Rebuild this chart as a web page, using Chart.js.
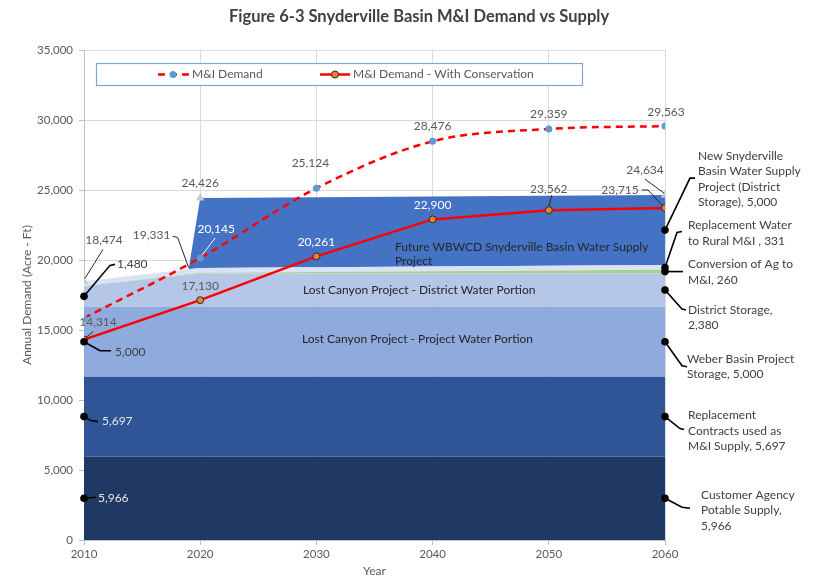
<!DOCTYPE html>
<html>
<head>
<meta charset="utf-8">
<title>Figure 6-3 Snyderville Basin M&amp;I Demand vs Supply</title>
<script src="https://cdn.jsdelivr.net/npm/chart.js@4.4.1/dist/chart.umd.min.js"></script>
<style>
  html, body { margin: 0; padding: 0; background: #ffffff; }
  #wrap { width: 814px; height: 578px; }
</style>
</head>
<body>
<div id="wrap"><canvas id="chart" width="814" height="578"></canvas></div>
<script>
// ---- Supply components (acre-ft), at the years where the stack changes ----
const supplyYears = [2010, 2019, 2020, 2060];
const customerAgency       = [5966, 5966, 5966, 5966];
const replacementContracts = [5697, 5697, 5697, 5697];
const weberStorage         = [5000, 5000, 5000, 5000];
const districtStorage      = [1480, 2290, 2380, 2380];
const agConversion         = [0, 47, 52, 260];
const ruralReplacement     = [331, 331, 331, 331];
const futureProject        = [0, 0, 5000, 5000];

// ---- Total supply (top of the stack) ----
const totalYears  = [2010, 2019, 2020, 2060];
const totalSupply = [18474, 19331, 24426, 24634];

// ---- Demand projections ----
const demandYears        = [2010, 2020, 2030, 2040, 2050, 2060];
const demand             = [15850, 20145, 25124, 28476, 29359, 29563];
const demandConservation = [14314, 17130, 20261, 22900, 23562, 23715];

// ---- Axis ticks ----
const yearTicks = [2010, 2020, 2030, 2040, 2050, 2060];
const yTickMax = 35000, yTickStep = 5000;

const FONT = 'Lato, "Open Sans", sans-serif';
const GRAY = '#595959', DARK = '#404040';
const fmt = v => Math.round(v).toLocaleString('en-US');
const pts = (xs, ys) => xs.map((x, i) => ({ x, y: ys[i] }));

// Value labels placed next to points: offsets in px from the point
const valueLabelLayout = {
  'M&I Demand': [
    null,
    { dx: 16, dy: -29, color: '#ffffff', leader: [[15, -20], [2, -3]] },
    { dx: -6, dy: -25, color: GRAY },
    { dx: 0, dy: -15, color: GRAY },
    { dx: 0, dy: -15, color: GRAY },
    { dx: 1, dy: -14, color: GRAY }
  ],
  'M&I Demand - With Conservation': [
    { dx: 14, dy: -17, color: GRAY, leader: [[2, -2], [9, -8]] },
    { dx: 0, dy: -14, color: GRAY },
    { dx: 0, dy: -14, color: '#ffffff' },
    { dx: 0, dy: -14, color: '#ffffff' },
    { dx: 0, dy: -21, color: GRAY, leader: [[0, -4], [3, -15]] },
    { dx: -45, dy: -18, color: GRAY, leader: [[-23, -18], [-17, -18], [-2, -2]] }
  ],
  'Total Supply': [
    { dx: 20, dy: -41, color: GRAY, leader: [[19, -32], [1, -3]] },
    { dx: -37, dy: -34, color: GRAY, leader: [[-16, -33], [-11, -32], [0, -2]] },
    { dx: 0, dy: -15, color: GRAY },
    { dx: -20, dy: -25, color: GRAY, leader: [[-20, -16], [-1, -2]] }
  ]
};

// Band callouts: black dot at the middle of a band, leader, and text lines
const bandCallouts = [
  // 2010 side (index 0)
  { band: 'Customer Agency Potable Supply', idx: 0, lines: ['{v}'], tx: 14, ty: 0, color: '#e6e6e6', leader: [[0, 0], [12, -1]] },
  { band: 'Replacement Contracts used as M&I Supply', idx: 0, lines: ['{v}'], tx: 18, ty: 5, color: '#e6e6e6', leader: [[0, 0], [7, 4], [14, 5]] },
  { band: 'Weber Basin Project Storage', idx: 0, lines: ['{v}'], tx: 31, ty: 10, color: DARK, leader: [[0, 0], [16, 9], [27, 9]] },
  { band: 'District Storage', idx: 0, lines: ['{v}'], tx: 33, ty: -32, color: DARK, leader: [[0, 0], [26, -31], [31, -32]] },
  // 2060 side (index 3)
  { band: 'New Snyderville Basin Water Supply Project', idx: 3, lines: ['New Snyderville', 'Basin Water Supply', 'Project (District', 'Storage), {v}'], tx: 33, ty: -74, color: DARK, leader: [[0, 0], [25, -52], [30, -52]] },
  { band: 'Replacement Water to Rural M&I', idx: 3, lines: ['Replacement Water', 'to Rural M&I , {v}'], tx: 23, ty: -42, color: DARK, leader: [[0, 0], [12, -35], [17, -36]] },
  { band: 'Conversion of Ag to M&I', idx: 3, lines: ['Conversion of Ag to', 'M&I, {v}'], tx: 23, ty: -7, color: DARK, leader: [[0, 0], [18, 0]] },
  { band: 'District Storage', idx: 3, lines: ['District Storage,', '{v}'], tx: 23, ty: 20, color: DARK, leader: [[0, 0], [17, 19], [21, 20]] },
  { band: 'Weber Basin Project Storage', idx: 3, lines: ['Weber Basin Project', 'Storage, {v}'], tx: 22, ty: 17, color: DARK, leader: [[0, 0], [17, 24], [22, 25]] },
  { band: 'Replacement Contracts used as M&I Supply', idx: 3, lines: ['Replacement', 'Contracts used as', 'M&I Supply, {v}'], tx: 23, ty: -1, color: DARK, leader: [[0, 0], [15, 12], [19, 13]] },
  { band: 'Customer Agency Potable Supply', idx: 3, lines: ['Customer Agency', 'Potable Supply,', '{v}'], tx: 36, ty: -3, color: DARK, leader: [[0, 0], [17, 9], [25, 10]] }
];

// Text written inside the bands (pixel anchors)
const bandTitles = [
  { lines: ['Future WBWCD Snyderville Basin Water Supply', 'Project'], x: 395, y: 247 },
  { lines: ['Lost Canyon Project - District Water Portion'], x: 303, y: 290 },
  { lines: ['Lost Canyon Project - Project Water Portion'], x: 302, y: 339 }
];

function area(label, values, color, first) {
  return {
    label, data: pts(supplyYears, values), stack: 'supply', order: 10,
    backgroundColor: color, borderColor: color, borderWidth: 0,
    pointRadius: 0, fill: first ? 'origin' : '-1', tension: 0
  };
}

const datasets = [
  area('Customer Agency Potable Supply', customerAgency, '#203864', true),
  area('Replacement Contracts used as M&I Supply', replacementContracts, '#2F5597'),
  area('Weber Basin Project Storage', weberStorage, '#8FAADC'),
  area('District Storage', districtStorage, '#B4C7E7'),
  area('Conversion of Ag to M&I', agConversion, '#A9D18E'),
  area('Replacement Water to Rural M&I', ruralReplacement, '#DAE3F3'),
  area('New Snyderville Basin Water Supply Project', futureProject, '#4472C4'),
  {
    label: 'Total Supply', data: pts(totalYears, totalSupply), stack: 'total', order: 1,
    showLine: false, fill: false, pointStyle: 'triangle',
    pointRadius: c => (c.raw && c.raw.x === 2019 ? 0 : 4),
    pointBackgroundColor: '#C9C9C9', pointBorderColor: '#C9C9C9', borderColor: '#C9C9C9'
  },
  {
    label: 'M&I Demand', data: pts(demandYears, demand), stack: 'demand', order: 0,
    borderColor: '#FF0000', borderWidth: 2.5, borderDash: [7, 5], fill: false,
    cubicInterpolationMode: 'monotone',
    pointRadius: 3.5, pointBackgroundColor: '#5B9BD5', pointBorderColor: '#5B9BD5', pointBorderWidth: 0
  },
  {
    label: 'M&I Demand - With Conservation', data: pts(demandYears, demandConservation), stack: 'conservation', order: 0,
    borderColor: '#FF0000', borderWidth: 2.5, fill: false, tension: 0,
    pointRadius: 3.5, pointBackgroundColor: '#ED7D31', pointBorderColor: '#2b2b2b', pointBorderWidth: 1
  }
];

const overlay = {
  id: 'overlay',
  afterDatasetsDraw(chart) {
    const ctx = chart.ctx;
    const byLabel = l => chart.data.datasets.findIndex(d => d.label === l);

    // text inside bands
    ctx.save();
    ctx.font = '12px ' + FONT; ctx.fillStyle = '#262626';
    ctx.textAlign = 'left'; ctx.textBaseline = 'middle';
    bandTitles.forEach(t => t.lines.forEach((line, k) => ctx.fillText(line, t.x, t.y + k * 14)));
    ctx.restore();

    // value labels
    Object.keys(valueLabelLayout).forEach(label => {
      const di = byLabel(label);
      const ds = chart.data.datasets[di];
      const meta = chart.getDatasetMeta(di);
      valueLabelLayout[label].forEach((s, i) => {
        if (!s) return;
        const el = meta.data[i];
        ctx.save();
        if (s.leader) {
          ctx.beginPath();
          ctx.strokeStyle = s.color === '#ffffff' ? '#ffffff' : '#262626';
          ctx.lineWidth = 1;
          s.leader.forEach(([dx, dy], k) => k ? ctx.lineTo(el.x + dx, el.y + dy) : ctx.moveTo(el.x + dx, el.y + dy));
          ctx.stroke();
        }
        ctx.font = '12px ' + FONT; ctx.fillStyle = s.color;
        ctx.textAlign = 'center'; ctx.textBaseline = 'middle';
        ctx.fillText(fmt(ds.data[i].y), el.x + s.dx, el.y + s.dy);
        ctx.restore();
      });
    });

    // band callouts
    const yZero = chart.scales.y.getPixelForValue(0);
    bandCallouts.forEach(c => {
      const di = byLabel(c.band);
      const ds = chart.data.datasets[di];
      const top = chart.getDatasetMeta(di).data[c.idx];
      const bottomY = di === 0 ? yZero : chart.getDatasetMeta(di - 1).data[c.idx].y;
      const x = top.x, y = (top.y + bottomY) / 2;
      ctx.save();
      ctx.strokeStyle = '#000000'; ctx.lineWidth = 1.6;
      ctx.beginPath();
      c.leader.forEach(([dx, dy], k) => k ? ctx.lineTo(x + dx, y + dy) : ctx.moveTo(x + dx, y + dy));
      ctx.stroke();
      ctx.fillStyle = '#000000';
      ctx.beginPath(); ctx.arc(x, y, 3.8, 0, Math.PI * 2); ctx.fill();
      ctx.font = '12px ' + FONT; ctx.fillStyle = c.color;
      ctx.textAlign = 'left'; ctx.textBaseline = 'middle';
      c.lines.forEach((line, k) => ctx.fillText(line.replace('{v}', fmt(ds.data[c.idx].y)), x + c.tx, y + c.ty + k * 15.3));
      ctx.restore();
    });
  },
  afterDraw(chart) {
    const ctx = chart.ctx;
    // title
    ctx.save();
    ctx.font = 'bold 16.5px ' + FONT; ctx.fillStyle = DARK;
    ctx.textAlign = 'center'; ctx.textBaseline = 'middle';
    ctx.fillText('Figure 6-3 Snyderville Basin M&I Demand vs Supply', 419, 17);
    ctx.restore();

    // legend box
    const dem = chart.data.datasets.find(d => d.label === 'M&I Demand');
    const con = chart.data.datasets.find(d => d.label === 'M&I Demand - With Conservation');
    ctx.save();
    ctx.fillStyle = '#ffffff'; ctx.fillRect(96, 63, 487, 23);
    ctx.strokeStyle = '#7FA6D6'; ctx.lineWidth = 1.2; ctx.strokeRect(96.5, 63.5, 486, 22);
    const ly = 74.5;
    ctx.strokeStyle = dem.borderColor; ctx.lineWidth = 2.5; ctx.setLineDash([7, 5]);
    ctx.beginPath(); ctx.moveTo(158, ly); ctx.lineTo(190, ly); ctx.stroke();
    ctx.setLineDash([]);
    ctx.fillStyle = dem.pointBackgroundColor;
    ctx.beginPath(); ctx.arc(173, ly, 3.5, 0, Math.PI * 2); ctx.fill();
    ctx.strokeStyle = con.borderColor;
    ctx.beginPath(); ctx.moveTo(320, ly); ctx.lineTo(350, ly); ctx.stroke();
    ctx.fillStyle = con.pointBackgroundColor; ctx.strokeStyle = con.pointBorderColor; ctx.lineWidth = 1;
    ctx.beginPath(); ctx.arc(335, ly, 3.5, 0, Math.PI * 2); ctx.fill(); ctx.stroke();
    ctx.font = '12px ' + FONT; ctx.fillStyle = GRAY;
    ctx.textAlign = 'left'; ctx.textBaseline = 'middle';
    ctx.fillText(dem.label, 192, ly);
    ctx.fillText(con.label, 353, ly);
    ctx.restore();
  }
};

new Chart(document.getElementById('chart'), {
  type: 'line',
  data: { datasets },
  plugins: [overlay],
  options: {
    responsive: false, animation: false, devicePixelRatio: 1,
    layout: { padding: { top: 50, right: 149, bottom: 0, left: 0 } },
    plugins: { legend: { display: false }, tooltip: { enabled: false }, title: { display: false } },
    scales: {
      x: {
        type: 'linear', min: yearTicks[0], max: yearTicks[yearTicks.length - 1],
        afterBuildTicks: s => { s.ticks = yearTicks.map(v => ({ value: v })); },
        afterFit: s => { s.height = 38; },
        ticks: { callback: v => String(v), color: GRAY, font: { family: FONT, size: 11.5 }, padding: 2, maxRotation: 0 },
        grid: { color: '#D9D9D9', tickLength: 5, tickColor: '#BFBFBF' },
        border: { color: '#BFBFBF' },
        title: { display: true, text: 'Year', color: GRAY, font: { family: FONT, size: 12 }, padding: { top: 0, bottom: 0 } }
      },
      y: {
        stacked: true, min: 0, max: yTickMax,
        afterFit: s => { s.width = 84; },
        ticks: { stepSize: yTickStep, callback: v => fmt(v), color: GRAY, font: { family: FONT, size: 11.5 }, padding: 6 },
        grid: { color: '#D9D9D9', tickLength: 5, tickColor: '#BFBFBF' },
        border: { color: '#BFBFBF' },
        title: { display: true, text: 'Annual Demand (Acre - Ft)', color: GRAY, font: { family: FONT, size: 12 }, padding: { top: 20, bottom: 0 } }
      }
    }
  }
});
</script>
</body>
</html>
